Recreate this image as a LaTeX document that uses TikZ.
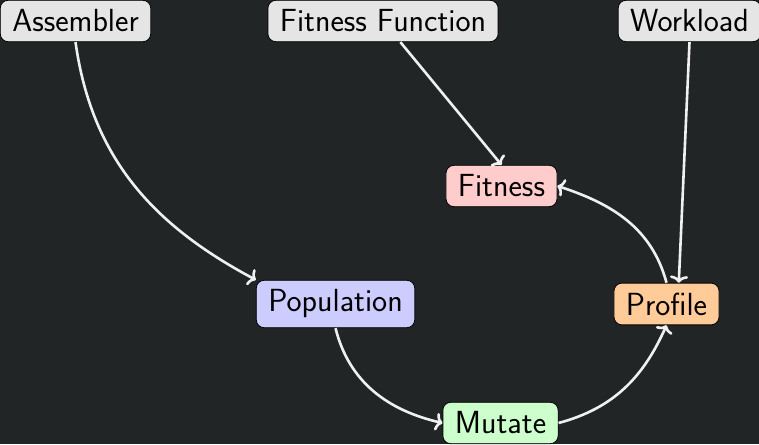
\documentclass[tikz,border=0pt]{standalone}
\usetikzlibrary{arrows.meta}
\definecolor{bg}{RGB}{34,37,38}
\definecolor{edgec}{RGB}{240,240,240}
\begin{document}
\begin{tikzpicture}[x=1pt,y=1pt,
  box/.style={draw=black, line width=0.8pt, rounded corners=8pt, inner xsep=12pt, inner ysep=9.5pt,
    font=\fontsize{32}{38}\selectfont\sffamily, text=black},
  conn/.style={draw=edgec, line width=2.6pt, -{To[length=7pt,width=18pt]}}]
\fill[bg] (0,0) rectangle (759,444);
\useasboundingbox (0,0) rectangle (759,444);
\clip (0,0) rectangle (759,444);
\node[box, fill=gray!20] (assembler) at (75.5,423) {Assembler};
\node[box, fill=gray!20] (fitfunc) at (383,423) {Fitness Function};
\node[box, fill=gray!20] (workload) at (689.5,423) {Workload};
\node[box, fill=red!20] (fitness) at (501.5,258) {Fitness};
\node[box, fill=blue!20] (population) at (335.5,140) {Population};
\node[box, fill=orange!40] (profile) at (666.5,140) {Profile};
\node[box, fill=green!20] (mutate) at (500.5,21) {Mutate};
\draw[conn] (assembler.south) to[out=-82,in=152] (population.north west);
\draw[conn] (fitfunc) -- (fitness.north);
\draw[conn] (workload.south) -- (profile.60);
\draw[conn] (profile.north) to[out=105,in=-18] (fitness.east);
\draw[conn] (population.south) to[out=-76,in=167] (mutate.west);
\draw[conn] (mutate.east) to[out=15,in=-114] (profile.south);
\end{tikzpicture}
\end{document}
